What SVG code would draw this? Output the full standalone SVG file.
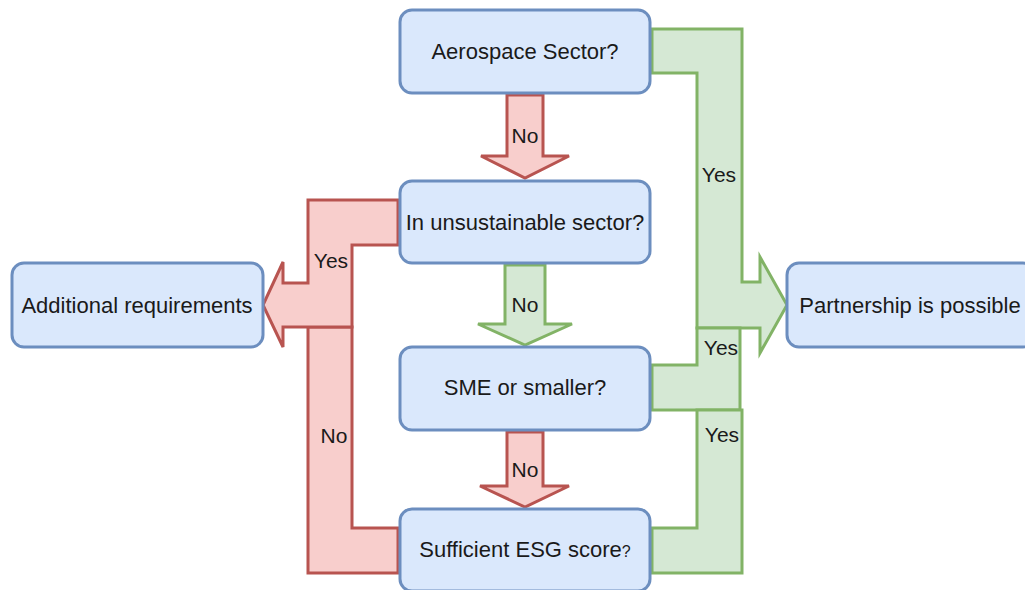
<svg xmlns="http://www.w3.org/2000/svg" width="1025" height="590" viewBox="0 0 1025 590">
  <style>
    .node rect { fill: #dae8fc; stroke: #6c8ebf; stroke-width: 3; }
    .node text { font-family: "Liberation Sans", Arial, sans-serif; font-size: 22px; fill: #1a1a1a; text-anchor: middle; }
    .lbl { font-family: "Liberation Sans", Arial, sans-serif; font-size: 21px; fill: #1a1a1a; text-anchor: middle; }
    .no { fill: #f8cecc; stroke: #b85450; stroke-width: 3; stroke-linejoin: miter; }
    .yes { fill: #d5e8d4; stroke: #82b366; stroke-width: 3; stroke-linejoin: miter; }
  </style>
  <rect width="1025" height="590" fill="#ffffff"/>

  <g id="connectors">
    <!-- Aerospace -> unsustainable (No) -->
    <polygon class="no" points="507,95 543,95 543,156 569,156 525,178 481,156 507,156"/>
    <!-- unsustainable -> SME (No) -->
    <polygon class="yes" points="505,265 545,265 545,324 572,324 525,345 478,324 505,324"/>
    <!-- SME -> ESG (No) -->
    <polygon class="no" points="507,432 543,432 543,486 569,486 525,507 480,486 507,486"/>
    <!-- ESG -> Additional requirements (No) -->
    <polygon class="no" points="308,327 352,327 352,528 398,528 398,573 308,573"/>
    <!-- unsustainable -> Additional requirements (Yes) -->
    <polygon class="no" points="398,200 308,200 308,283 283,283 283,262 263,305 283,347 283,327 352,327 352,245 398,245"/>
    <!-- Aerospace -> Partnership (Yes) -->
    <polygon class="yes" points="652,29 742,29 742,282 760,282 760,257 787,305 760,353 760,328 697,328 697,73 652,73"/>
    <!-- SME -> Partnership (Yes) -->
    <polygon class="yes" points="652,365 697,365 697,328 740,328 740,410 652,410"/>
    <!-- ESG -> Partnership (Yes) -->
    <polygon class="yes" points="697,410 742,410 742,573 652,573 652,528 697,528"/>

    <text class="lbl" x="525" y="143">No</text>
    <text class="lbl" x="525" y="312">No</text>
    <text class="lbl" x="525" y="477">No</text>
    <text class="lbl" x="331" y="268">Yes</text>
    <text class="lbl" x="334" y="443">No</text>
    <text class="lbl" x="719" y="182">Yes</text>
    <text class="lbl" x="721" y="355">Yes</text>
    <text class="lbl" x="722" y="442">Yes</text>
  </g>

  <g id="aerospace" class="node">
    <rect x="400" y="10" width="250" height="83" rx="12"/>
    <text x="525" y="59">Aerospace Sector?</text>
  </g>
  <g id="unsustainable" class="node">
    <rect x="400" y="181" width="250" height="82" rx="12"/>
    <text x="525" y="230">In unsustainable sector?</text>
  </g>
  <g id="sme" class="node">
    <rect x="400" y="347" width="250" height="83" rx="12"/>
    <text x="525" y="395">SME or smaller?</text>
  </g>
  <g id="esg" class="node">
    <rect x="400" y="509" width="250" height="82" rx="12"/>
    <text x="525" y="557">Sufficient ESG score<tspan font-size="16">?</tspan></text>
  </g>
  <g id="additional" class="node">
    <rect x="12" y="263" width="251" height="84" rx="12"/>
    <text x="137" y="313">Additional requirements</text>
  </g>
  <g id="partnership" class="node">
    <rect x="787" y="263" width="248" height="84" rx="12"/>
    <text x="910" y="313">Partnership is possible</text>
  </g>
</svg>
